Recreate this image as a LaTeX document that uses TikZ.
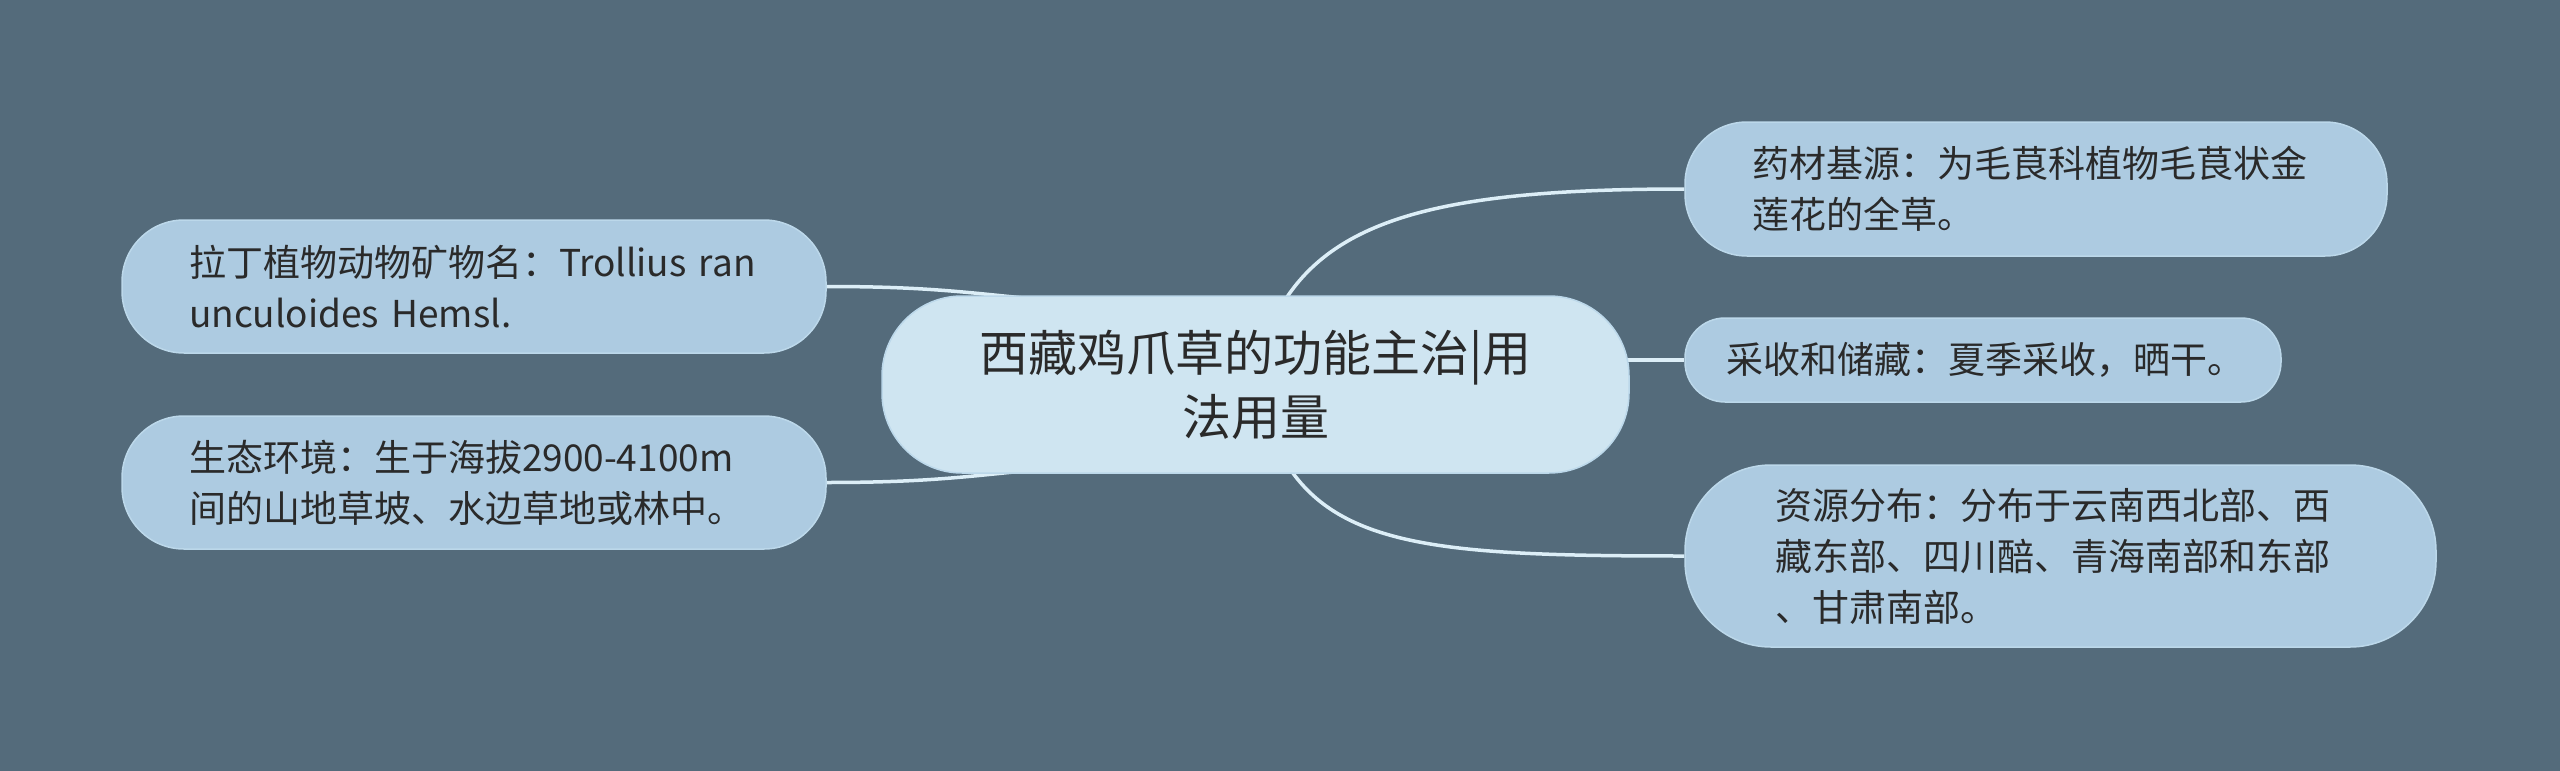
\documentclass[tikz,border=0pt]{standalone}
\usepackage{fontspec}
\setmainfont{Noto Sans CJK SC}
\usetikzlibrary{calc}
\pgfdeclarelayer{back}
\pgfdeclarelayer{links}
\pgfsetlayers{back,links,main}
\definecolor{bg}{HTML}{546B7B}
\definecolor{sidefill}{HTML}{ADCBE1}
\definecolor{centfill}{HTML}{CFE5F1}
\definecolor{edgecol}{HTML}{BCD8EA}
\definecolor{linkcol}{HTML}{DCEEF7}
\definecolor{txt}{HTML}{2A2A2A}
\tikzset{
  sidebox/.style={draw=edgecol, line width=1.5pt, fill=sidefill, text=txt,
    align=left, inner ysep=0pt, font=\fontsize{37}{51}\selectfont},
  centbox/.style={draw=edgecol, line width=1.5pt, fill=centfill, text=txt,
    align=center, inner ysep=0pt, inner xsep=0pt, font=\fontsize{49}{64}\selectfont,
    minimum width=747pt, minimum height=177pt, rounded corners=80pt},
  link/.style={draw=linkcol, line width=3.5pt}
}
\begin{document}
\begin{tikzpicture}[x=1pt,y=-1pt]
\begin{pgfonlayer}{back}
\fill[bg] (0,0) rectangle (2560,771);
\end{pgfonlayer}
\useasboundingbox (0,0) rectangle (2560,771);

\node[centbox] (c) at (1255.5,384.5) {西藏鸡爪草的功能主治|用\\法用量};
\node[sidebox, text width=570pt, inner xsep=67pt, minimum height=133pt, rounded corners=62pt] (lt) at (474,286.5)
  {拉丁植物动物矿物名：Trollius ran\\unculoides Hemsl.};
\node[sidebox, text width=570pt, inner xsep=67pt, minimum height=133pt, rounded corners=62pt] (lb) at (474,482.5)
  {生态环境：生于海拔2900-4100m\\间的山地草坡、水边草地或林中。};
\node[sidebox, text width=568pt, inner xsep=67pt, minimum height=134pt, rounded corners=62pt] (rt) at (2036,189)
  {药材基源：为毛茛科植物毛茛状金\\莲花的全草。};
\node[sidebox, text width=514pt, inner xsep=41pt, minimum height=84pt, rounded corners=40pt] (rm) at (1983,360)
  {采收和储藏：夏季采收，晒干。};
\node[sidebox, text width=571pt, inner xsep=90pt, minimum height=182pt, rounded corners=86pt] (rb) at (2060.5,556)
  {资源分布：分布于云南西北部、西\\藏东部、四川醅、青海南部和东部\\、甘肃南部。};

\begin{pgfonlayer}{links}
\path[link] (lt.east) .. controls ($(lt.east)+(120,0)$) and ($(c.north west)+(100,0)$) .. ($(c.north west)+(200,8)$);
\path[link] (lb.east) .. controls ($(lb.east)+(120,0)$) and ($(c.south west)+(100,0)$) .. ($(c.south west)+(200,-8)$);
\path[link] ($(c.north)+(30,4)$) .. controls ($(c.north)+(85,-80)$) and ($(rt.west)+(-230,0)$) .. (rt.west);
\path[link] ($(c.south)+(35,-4)$) .. controls ($(c.south)+(90,75)$) and ($(rb.west)+(-230,0)$) .. (rb.west);
\path[link] (c.center |- rm.west) -- (rm.west);
\end{pgfonlayer}
\end{tikzpicture}
\end{document}
